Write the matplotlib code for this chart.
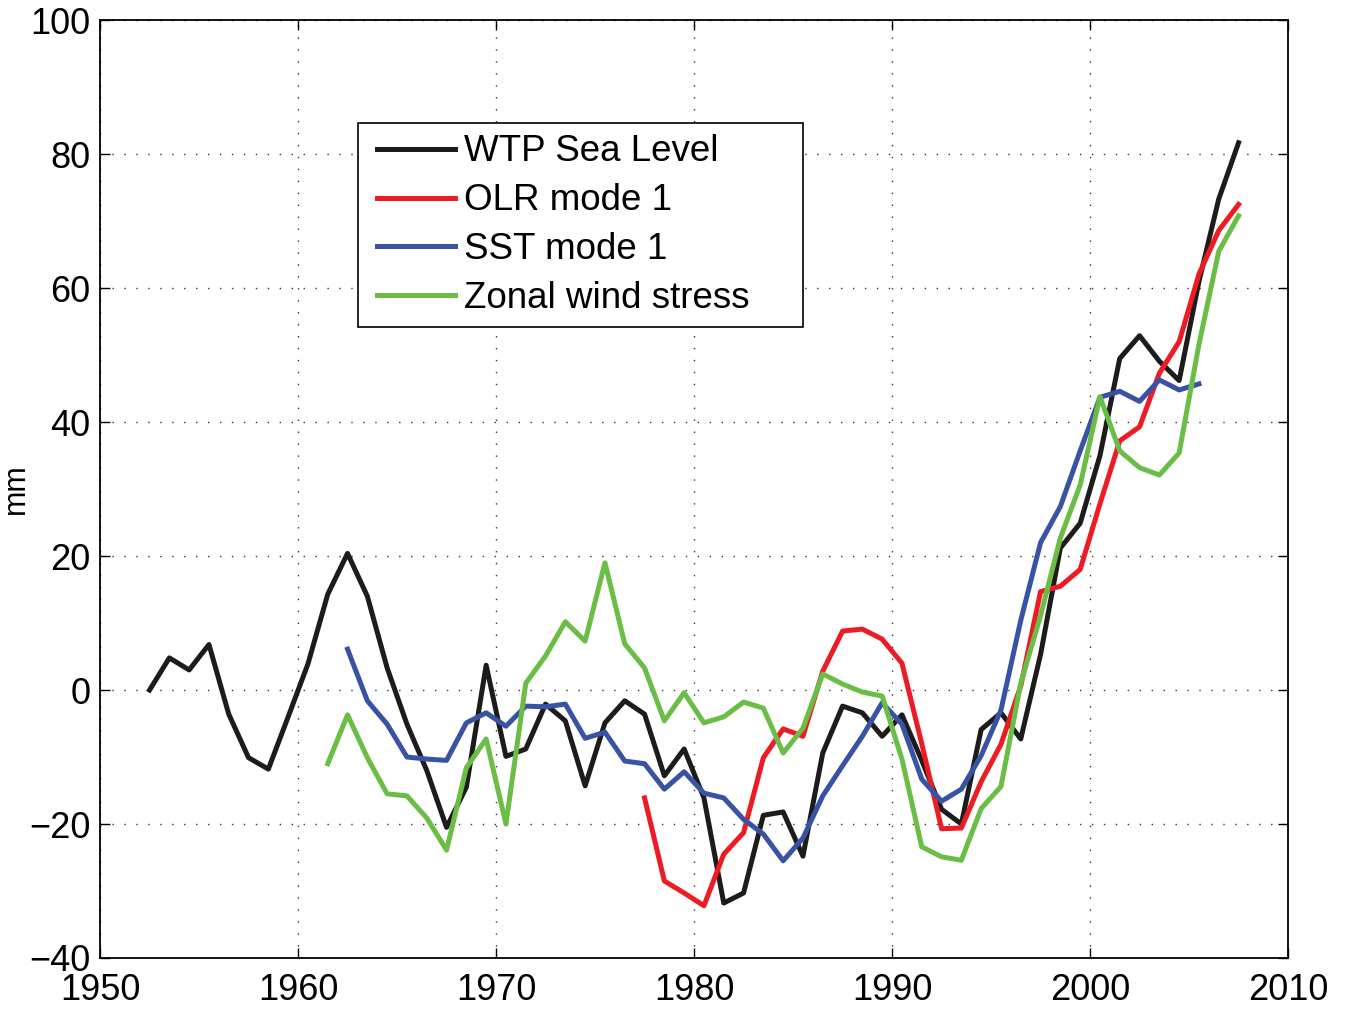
import numpy as np
import matplotlib.pyplot as plt
from matplotlib.lines import Line2D
from matplotlib.legend_handler import HandlerLine2D

plt.rcParams['font.family'] = ['Liberation Sans', 'DejaVu Sans']

# valores medios anuales (se grafican a mitad de año)
anios_wtp = np.arange(1952, 2008) + 0.5
wtp = [0.0, 4.8, 3.0, 6.8, -3.6, -10.1, -11.8, -4.0, 3.9, 14.3,
       20.4, 14.0, 3.3, -5.1, -12.0, -20.5, -14.5, 3.7, -9.9, -8.8,
       -2.1, -4.6, -14.3, -4.9, -1.6, -3.6, -12.8, -8.8, -16.1, -31.8,
       -30.3, -18.7, -18.2, -24.8, -9.4, -2.4, -3.4, -6.9, -3.7, -10.5,
       -17.8, -20.0, -5.9, -3.4, -7.3, 5.3, 21.2, 24.9, 35.0, 49.5,
       52.9, 49.1, 46.2, 61.0, 73.3, 81.7]

anios_olr = np.arange(1977, 2008) + 0.5
olr = [-16.1, -28.5, -30.3, -32.2, -24.5, -21.3, -10.1, -5.8, -6.9, 2.8,
       8.8, 9.1, 7.6, 4.0, -8.0, -20.7, -20.6, -13.7, -8.1, 0.6,
       14.7, 15.5, 18.0, 27.8, 37.2, 39.3, 47.3, 52.0, 62.1, 68.6,
       72.5]

anios_sst = np.arange(1962, 2006) + 0.5
sst = [6.1, -1.6, -5.1, -10.0, -10.3, -10.5, -4.9, -3.4, -5.4, -2.4,
       -2.5, -2.1, -7.2, -6.3, -10.6, -11.0, -14.8, -12.2, -15.4, -16.1,
       -19.3, -21.5, -25.5, -22.1, -15.8, -11.3, -6.9, -1.9, -5.1, -13.3,
       -16.6, -14.8, -9.8, -3.0, 10.4, 22.0, 27.4, 35.7, 43.7, 44.6,
       43.1, 46.3, 44.8, 45.7]

anios_viento = np.arange(1961, 2008) + 0.5
viento = [-11.0, -3.7, -10.1, -15.5, -15.8, -19.1, -23.9, -11.6, -7.3, -20.0,
          1.0, 5.1, 10.2, 7.3, 19.0, 6.9, 3.3, -4.6, -0.4, -4.9,
          -4.0, -1.8, -2.7, -9.4, -5.7, 2.4, 0.9, -0.3, -0.9, -10.3,
          -23.4, -24.9, -25.4, -17.7, -14.4, 1.0, 11.1, 22.7, 30.6, 43.8,
          35.7, 33.2, 32.1, 35.4, 51.6, 65.5, 70.8]

fig = plt.figure(figsize=(13.52, 10.10), dpi=100)
ax = fig.add_axes([0.074, 0.0515, 0.8787, 0.9285])

lw = 3.6
ax.plot(anios_wtp, wtp, color='#1e1b1c', lw=lw, label='WTP Sea Level')
ax.plot(anios_olr, olr, color='#ed1c24', lw=lw, label='OLR mode 1')
ax.plot(anios_sst, sst, color='#3953a4', lw=lw, label='SST mode 1')
ax.plot(anios_viento, viento, color='#6abd45', lw=lw, label='Zonal wind stress')

ax.set_xlim(1950, 2010)
ax.set_ylim(-40, 100)
ax.set_xticks(np.arange(1950, 2011, 10))
ax.set_yticks(np.arange(-40, 101, 20))
ax.set_yticklabels(['\u221240', '\u221220', '0', '20', '40', '60', '80', '100'])
ax.grid(True, color='#333333', linestyle=(0, (1, 7.6)), lw=1)

ax.tick_params(direction='in', length=7, width=1, top=True, right=True,
               labelsize=26)
ax.tick_params(axis='x', pad=11)
ax.tick_params(axis='y', pad=7)
for s in ax.spines.values():
    s.set_linewidth(1.3)

ax.set_ylabel('mm', fontsize=22)
ax.yaxis.set_label_coords(-0.058, 0.5)

# leyenda estilo matlab: caja mas ancha que el texto
leg = ax.legend(loc='upper left', bbox_to_anchor=(0.2172, 0.890, 0.3746, 0),
                mode='expand', borderaxespad=0, fontsize=26.5,
                handlelength=2.34, handletextpad=0.245, labelspacing=0.38,
                borderpad=0.3, fancybox=False, framealpha=1,
                handler_map={Line2D: HandlerLine2D(xpad=0.22)})
leg.get_frame().set_edgecolor('black')
leg.get_frame().set_linewidth(1.2)

fig.savefig('out.png', dpi=100)
